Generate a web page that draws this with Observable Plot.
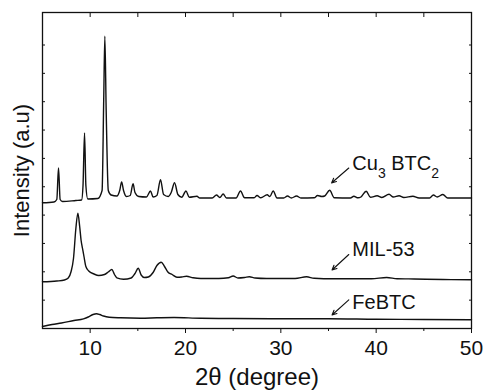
<!DOCTYPE html>
<html>
<head>
<meta charset="utf-8">
<script src="https://cdn.jsdelivr.net/npm/d3@7"></script>
<script src="https://cdn.jsdelivr.net/npm/@observablehq/plot@0.6"></script>
<style>
  html, body { margin: 0; padding: 0; background: #fff; }
  #chart { width: 483px; height: 390px; }
</style>
</head>
<body>
<div id="chart"></div>
<script>
// ---- Data (2θ in degrees, intensity in arbitrary units, curves already offset) ----
const cuX = [5.0,6.2,6.5,6.68,6.85,7.1,8.5,9.1,9.25,9.41,9.55,9.75,10.8,11.25,11.42,11.54,11.68,11.9,12.2,12.8,13.1,13.3,13.5,13.8,14.2,14.5,14.7,15.1,15.9,16.33,16.6,17.0,17.38,17.7,18.2,18.5,18.85,19.2,19.6,20.05,20.4,21.2,21.5,22.8,23.25,23.6,23.95,24.3,25.3,25.77,26.2,27.2,27.5,27.9,28.57,28.85,29.2,29.6,30.3,30.7,31.1,31.65,32.1,33.5,33.85,34.3,34.6,35.12,35.6,37.3,37.66,38.1,38.4,38.95,39.4,40.1,40.6,41.35,41.8,42.4,42.9,43.85,44.5,45.6,46.0,46.4,47.0,47.5,50.0];
const cuY = [125.7,126.5,129,160.5,129,127,128,128.5,143,195.5,143,129.5,130,138,228,292.3,218,138,133.5,132.5,138,146.5,138,132,133,144.7,136,132,131.5,137.5,131.5,133,148.7,134,132,136,145.7,134,131.2,137.5,131.2,132.2,130.5,130.5,133.5,131,134.5,130.5,130.5,137.5,130.7,130.7,133,130.7,133.7,132,137.5,130.5,130.5,132.5,130.5,132.5,130.5,130.7,133,132,132.5,138.2,130.7,130.5,132.2,130.7,131.5,137.3,131.2,132.7,131,134.2,131.5,132.7,131,132.2,130.5,130.5,133.5,131.5,134,130.5,130.5];

const milX = [5.0,6.5,7.3,7.7,8.0,8.25,8.5,8.71,8.9,9.05,9.2,9.35,9.55,9.85,10.4,10.9,11.5,11.9,12.27,12.55,12.8,13.5,14.3,14.7,15.04,15.35,15.7,16.1,16.6,17.0,17.45,17.8,18.15,18.6,19.1,19.6,20.1,20.8,21.6,23.5,24.5,25.0,25.5,26.2,26.7,27.3,28.5,31.5,32.7,33.5,35.5,39.5,41.1,42.2,44,47,50];
const milY = [46.7,47.5,48.5,50.5,57,70,100,115.3,102,88,80,72,62,57.5,54.5,53,54,56.5,59,54,50.7,49.3,50.5,55,60.3,53.5,51,51.5,56,63,66.3,62,56.5,54,51.3,51.5,52.3,50.7,50,50,50.7,52.5,50.5,51,51.7,50.5,50,50,51.7,50.2,49.7,49.7,51,49.8,49.5,49,48.7];

const feX = [5.0,6.0,7.0,8.3,9.3,9.8,10.3,10.67,11.0,11.4,12.0,13.2,15.3,17,18.8,21.6,25,30,35,40,45,50];
const feY = [2,4,5.5,8,9.7,11.5,14,14.7,14,12.5,11.3,10.7,10.3,10.7,11,10.2,10,9.7,9.7,9.2,9,8.7];

// Axis ticks
const xMajorTicks = [10, 20, 30, 40, 50];
const xMinorTicks = [15, 25, 35, 45];
const xTopTicks = [10, 15, 20, 25, 30, 35, 40, 45];
const yTicks = [0, 28.35, 56.7, 85.05, 113.4, 141.75, 170.1, 198.45, 226.8, 255.15, 283.5];

// Annotations
const labelNames = ["Cu3 BTC2", "MIL-53", "FeBTC"];
const labelX = [37.5, 37.5, 37.5];
const labelY = [158.7, 73, 19.7];
const arrowX1 = [37.13, 37.13, 37.13];
const arrowY1 = [160.5, 74, 28.7];
const arrowX2 = [35.32, 35.37, 35.37];
const arrowY2 = [145.5, 58.5, 13.5];

const font = "'Liberation Sans', Arial, Helvetica, sans-serif";

const chart = Plot.plot({
  width: 483,
  height: 390,
  marginLeft: 42,
  marginRight: 12,
  marginTop: 12,
  marginBottom: 62,
  style: { fontFamily: font, fontSize: "20px", color: "#111", background: "#fff" },
  x: { domain: [5, 50] },
  y: { domain: [0, 316] },
  marks: [
    Plot.frame({ stroke: "#111", strokeWidth: 1.3 }),
    Plot.axisX({ anchor: "bottom", ticks: xMajorTicks, tickSize: 5, tickPadding: 7, fontSize: 21, label: null, tickFormat: d => String(d) }),
    Plot.axisX({ anchor: "bottom", ticks: xMinorTicks, tickSize: 3, text: null, label: null }),
    Plot.axisX({ anchor: "top", ticks: xTopTicks, tickSize: 4, dy: 4, text: null, label: null }),
    Plot.axisY({ anchor: "left", ticks: yTicks, tickSize: 3, dx: 3, text: null, label: null }),
    Plot.axisY({ anchor: "right", ticks: yTicks, tickSize: 3, dx: -3, text: null, label: null }),
    Plot.line({ length: cuX.length }, { x: cuX, y: cuY, curve: "monotone-x", stroke: "#111", strokeWidth: 1.4 }),
    Plot.line({ length: milX.length }, { x: milX, y: milY, curve: "monotone-x", stroke: "#111", strokeWidth: 1.4 }),
    Plot.line({ length: feX.length }, { x: feX, y: feY, curve: "monotone-x", stroke: "#111", strokeWidth: 1.4 }),
    Plot.arrow({ length: arrowX1.length }, { x1: arrowX1, y1: arrowY1, x2: arrowX2, y2: arrowY2, stroke: "#111", strokeWidth: 1.1, headLength: 7, headAngle: 50 }),
    Plot.text({ length: labelNames.length }, { x: labelX, y: labelY, text: labelNames, textAnchor: "start", lineAnchor: "bottom", fontSize: 20, fill: "#111" }),
    Plot.text(["Intensity (a.u)"], { frameAnchor: "left", text: d => d, rotate: -90, dx: -21, textAnchor: "middle", lineAnchor: "middle", fontSize: 22, fill: "#111" }),
    Plot.text(["2θ (degree)"], { frameAnchor: "bottom", text: d => d, dy: 56, textAnchor: "middle", lineAnchor: "bottom", fontSize: 24, fill: "#111" })
  ]
});

// Subscripts for Cu3 BTC2
chart.querySelectorAll("text").forEach(t => {
  if (t.textContent === "Cu3 BTC2") {
    while (t.firstChild) t.removeChild(t.firstChild);
    const ns = "http://www.w3.org/2000/svg";
    const parts = [["Cu", 0, null], ["3", 8, 14], [" BTC", -8, null], ["2", 8, 14]];
    parts.forEach(([s, dy, fs]) => {
      const sp = document.createElementNS(ns, "tspan");
      sp.textContent = s;
      if (dy) sp.setAttribute("dy", dy);
      if (fs) sp.setAttribute("font-size", fs);
      t.appendChild(sp);
    });
  }
});

document.getElementById("chart").appendChild(chart);
</script>
</body>
</html>
